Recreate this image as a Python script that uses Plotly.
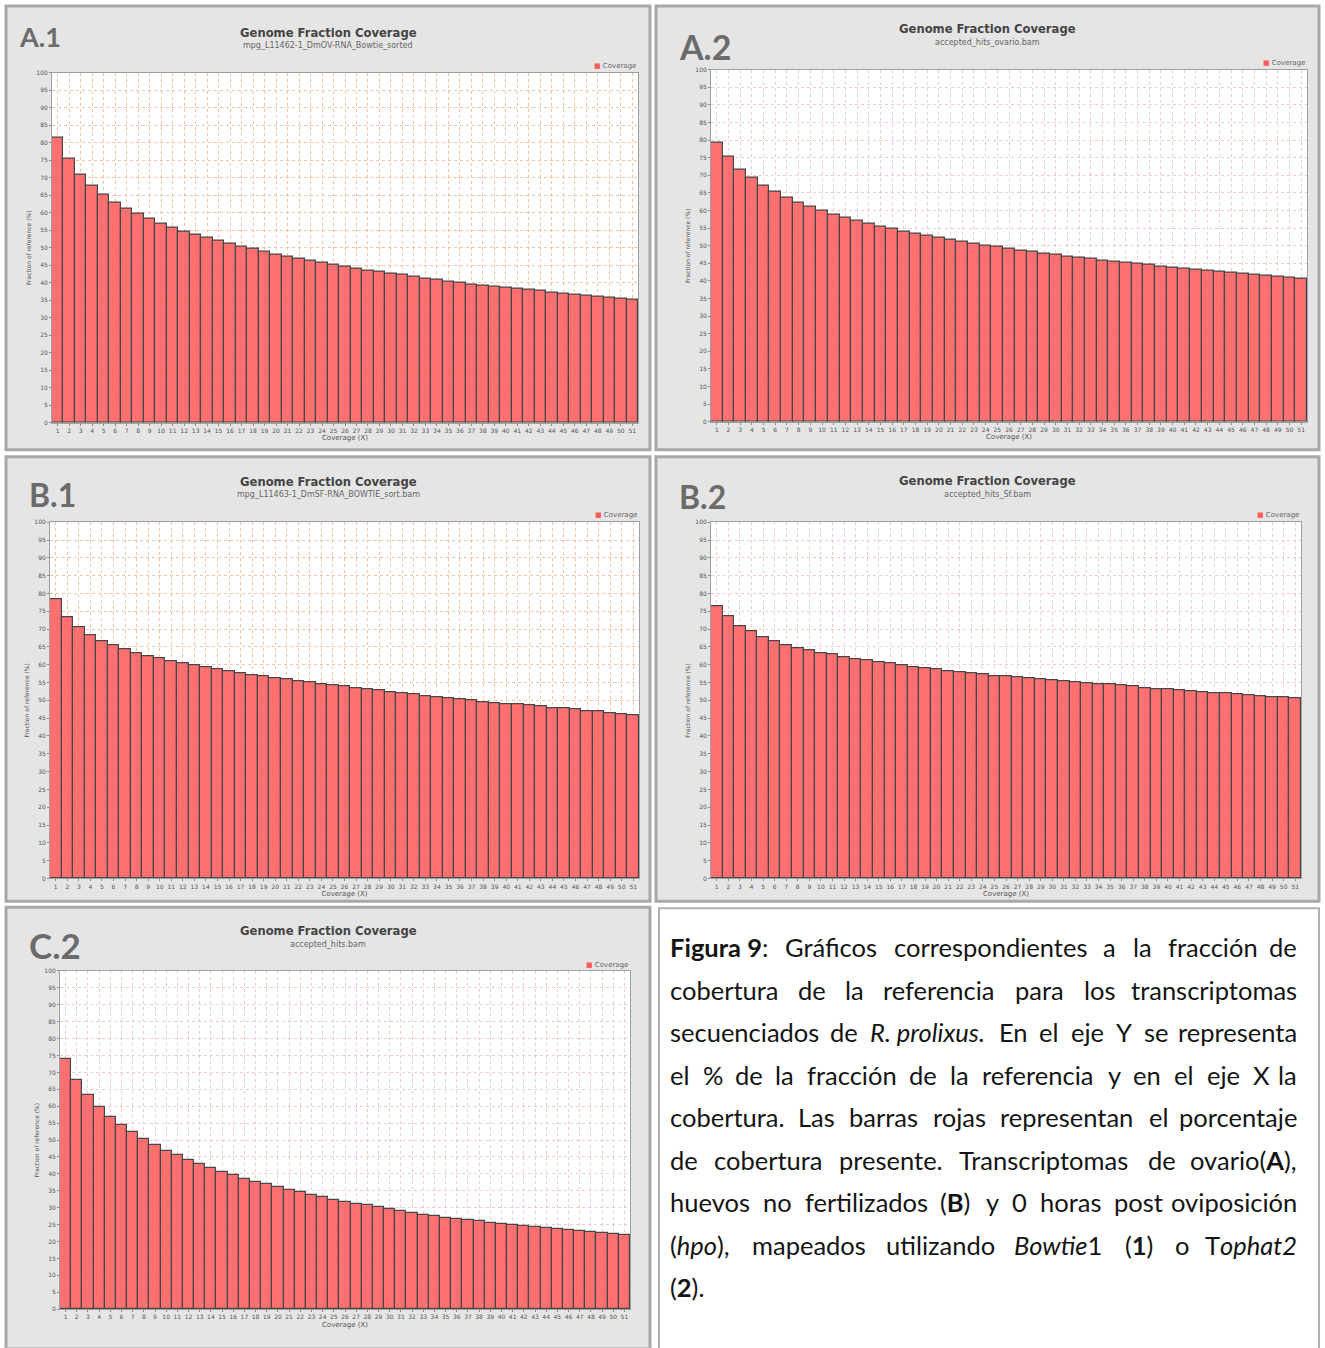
import re
import plotly.graph_objects as go

W, H = 1325, 1348

coverage = [1, 2, 3, 4, 5, 6, 7, 8, 9, 10, 11, 12, 13, 14, 15, 16, 17, 18, 19, 20,
            21, 22, 23, 24, 25, 26, 27, 28, 29, 30, 31, 32, 33, 34, 35, 36, 37, 38, 39, 40,
            41, 42, 43, 44, 45, 46, 47, 48, 49, 50, 51]

a1_values = [81.5, 75.3, 70.8, 67.6, 65.1, 63.0, 61.1, 59.6, 58.3, 56.9, 55.7, 54.6, 53.7, 52.8, 52.0,
             51.1, 50.3, 49.6, 48.8, 48.1, 47.5, 46.9, 46.2, 45.7, 45.2, 44.5, 44.1, 43.5, 43.1, 42.6,
             42.2, 41.7, 41.3, 40.8, 40.4, 40.0, 39.6, 39.3, 38.9, 38.6, 38.3, 37.9, 37.7, 37.3, 36.9,
             36.6, 36.3, 35.9, 35.7, 35.4, 35.1]
a2_values = [79.2, 75.2, 71.6, 69.3, 67.0, 65.3, 63.6, 62.3, 61.1, 60.0, 58.9, 57.9, 57.0, 56.2, 55.5,
             54.8, 54.1, 53.5, 52.9, 52.3, 51.8, 51.2, 50.7, 50.1, 49.6, 49.2, 48.7, 48.3, 47.8, 47.4,
             47.0, 46.6, 46.3, 45.9, 45.6, 45.2, 44.8, 44.6, 44.2, 43.9, 43.6, 43.3, 43.0, 42.7, 42.4,
             42.2, 41.9, 41.6, 41.3, 41.0, 40.7]
b1_values = [78.3, 73.4, 70.6, 68.2, 66.7, 65.4, 64.3, 63.3, 62.5, 61.7, 61.0, 60.3, 59.8, 59.2, 58.6,
             58.1, 57.6, 57.1, 56.7, 56.2, 55.8, 55.3, 55.0, 54.5, 54.2, 53.9, 53.5, 53.1, 52.8, 52.3,
             52.0, 51.6, 51.2, 50.9, 50.7, 50.4, 50.0, 49.6, 49.3, 49.0, 48.8, 48.5, 48.2, 47.9, 47.7,
             47.4, 47.0, 46.8, 46.5, 46.1, 45.8]
b2_values = [76.4, 73.5, 70.7, 69.3, 67.7, 66.7, 65.6, 64.7, 64.1, 63.2, 62.8, 62.0, 61.6, 61.2, 60.7,
             60.3, 59.9, 59.4, 59.1, 58.7, 58.3, 57.9, 57.6, 57.2, 56.9, 56.7, 56.4, 56.1, 55.8, 55.6,
             55.4, 55.1, 54.9, 54.6, 54.4, 54.1, 53.9, 53.5, 53.2, 53.0, 52.8, 52.5, 52.3, 52.1, 51.9,
             51.7, 51.5, 51.2, 51.0, 50.8, 50.6]
c2_values = [74.0, 67.9, 63.3, 59.8, 56.9, 54.5, 52.3, 50.4, 48.5, 46.9, 45.5, 44.0, 42.9, 41.7, 40.5,
             39.6, 38.5, 37.7, 36.9, 36.1, 35.3, 34.6, 33.8, 33.1, 32.4, 31.8, 31.2, 30.7, 30.1, 29.5,
             29.0, 28.5, 28.0, 27.6, 27.1, 26.7, 26.3, 26.0, 25.6, 25.2, 24.8, 24.5, 24.2, 23.9, 23.6,
             23.3, 23.0, 22.7, 22.5, 22.1, 21.9]

panel_labels = ["A.1", "A.2", "B.1", "B.2", "C.2"]
subtitles = ["mpg_L11462-1_DmOV-RNA_Bowtie_sorted", "accepted_hits_ovario.bam",
             "mpg_L11463-1_DmSF-RNA_BOWTIE_sort.bam", "accepted_hits_Sf.bam", "accepted_hits.bam"]
chart_title = "Genome Fraction Coverage"
series_name = "Coverage"
x_title = "Coverage (X)"
y_title = "Fraction of reference (%)"
y_ticks = [0, 5, 10, 15, 20, 25, 30, 35, 40, 45, 50, 55, 60, 65, 70, 75, 80, 85, 90, 95, 100]

caption_lines = [
    "<b>Figura 9</b>: Gráficos correspondientes a la fracción de",
    "cobertura de la referencia para los transcriptomas",
    "secuenciados de <i>R. prolixus.</i> En el eje Y se representa",
    "el % de la fracción de la referencia y en el eje X la",
    "cobertura. Las barras rojas representan el porcentaje",
    "de cobertura presente. Transcriptomas de ovario(<b>A</b>),",
    "huevos no fertilizados (<b>B</b>) y 0 horas post oviposición",
    "(<i>hpo</i>), mapeados utilizando <i>Bowtie</i>1 (<b>1</b>) o T<i>ophat2</i>",
    "(<b>2</b>).",
]

series = [a1_values, a2_values, b1_values, b2_values, c2_values]

# layout geometry in pixels
panel_boxes = [(6, 2, 650, 448), (656, 2, 1319, 448), (6, 455, 650, 902),
               (656, 455, 1319, 902), (6, 908, 650, 1352)]
plot_boxes = [(52, 69, 638, 421), (711, 66, 1307, 420), (50, 521, 639, 879),
              (711, 521, 1301, 879), (60, 972, 630, 1312)]
label_pos = [(17, 33, 27), (677, 43, 34), (27, 493, 32), (677, 495, 32), (27, 946, 35)]
title_y = [(29, 42), (25, 39), (480, 493), (479, 493), (932, 945)]
legend_y = [62, 59, 514, 514, 966]
grid_colors = ["rgba(240,175,130,0.75)", "rgba(225,185,175,0.7)", "rgba(240,175,130,0.75)",
               "rgba(225,185,175,0.7)", "rgba(225,185,175,0.7)"]


def px(x):
    return x / W


def py(y):
    return 1 - y / H


fig = go.Figure()
shapes = []
annotations = []

bar_color = "rgba(255,98,98,0.9)"
tick_font = dict(family="DejaVu Sans", size=6, color="#555555")

for i, vals in enumerate(series):
    n = i + 1
    xa = "x" if n == 1 else f"x{n}"
    ya = "y" if n == 1 else f"y{n}"
    fig.add_trace(go.Bar(
        x=coverage, y=vals, name=series_name, xaxis=xa, yaxis=ya,
        marker=dict(color=bar_color, line=dict(color="#474747", width=1.2)),
        showlegend=False, width=1.0,
    ))
    x0, y0, x1, y1 = plot_boxes[i]
    gc = grid_colors[i]
    axkey = "xaxis" if n == 1 else f"xaxis{n}"
    aykey = "yaxis" if n == 1 else f"yaxis{n}"
    fig.update_layout(**{
        axkey: dict(domain=[px(x0), px(x1)], anchor=ya, range=[0.5, 51.5],
                    tickmode="array", tickvals=coverage, ticktext=[str(c) for c in coverage],
                    tickfont=tick_font, tickangle=0, ticks="outside", ticklen=2, tickcolor="#888",
                    showgrid=True, gridcolor=gc, griddash="dot", gridwidth=1,
                    showline=True, linecolor="#a0a0a0", linewidth=1, mirror=True, zeroline=False,
                    title=dict(text=x_title, font=dict(family="DejaVu Sans", size=7, color="#555"),
                               standoff=2),
                    fixedrange=True),
        aykey: dict(domain=[py(y1), py(y0)], anchor=xa, range=[0, 100],
                    tickmode="array", tickvals=y_ticks, tickfont=tick_font,
                    ticks="outside", ticklen=2, tickcolor="#888",
                    showgrid=True, gridcolor=gc, griddash="dot", gridwidth=1,
                    showline=True, linecolor="#a0a0a0", linewidth=1, mirror=True, zeroline=False,
                    title=dict(text=y_title, font=dict(family="DejaVu Sans", size=6, color="#555"),
                               standoff=4),
                    fixedrange=True),
    })
    bx0, by0, bx1, by1 = panel_boxes[i]
    shapes.append(dict(type="rect", xref="paper", yref="paper", layer="below",
                       x0=px(bx0), x1=px(bx1), y0=py(by1), y1=py(by0),
                       fillcolor="#e5e5e5", line=dict(color="#a8a8a8", width=3)))
    shapes.append(dict(type="rect", xref=f"{xa} domain", yref=f"{ya} domain", layer="below",
                       x0=0, x1=1, y0=0, y1=1, fillcolor="white", line=dict(width=0)))
    lx, ly, ls = label_pos[i]
    annotations.append(dict(text=f"<b>{panel_labels[i]}</b>", x=px(lx), y=py(ly), xref="paper",
                            yref="paper", xanchor="left", yanchor="middle", showarrow=False,
                            font=dict(family="Lato", size=ls, color="#6b6b6b")))
    cx = (bx0 + bx1) / 2
    annotations.append(dict(text=f"<b>{chart_title}</b>", x=px(cx), y=py(title_y[i][0]), xref="paper",
                            yref="paper", xanchor="center", yanchor="middle", showarrow=False,
                            font=dict(family="DejaVu Sans", size=11.6, color="#444444")))
    annotations.append(dict(text=subtitles[i], x=px(cx), y=py(title_y[i][1]), xref="paper",
                            yref="paper", xanchor="center", yanchor="middle", showarrow=False,
                            font=dict(family="DejaVu Sans", size=8, color="#666666")))
    annotations.append(dict(text=f'<span style="color:#ff5c5c">■</span> {series_name}',
                            x=px(x1), y=py(legend_y[i]), xref="paper", yref="paper",
                            xanchor="right", yanchor="middle", showarrow=False,
                            font=dict(family="DejaVu Sans", size=7, color="#666666")))

# caption box
shapes.append(dict(type="rect", xref="paper", yref="paper", layer="below",
                   x0=px(659), x1=px(1319), y0=py(1352), y1=py(909),
                   fillcolor="white", line=dict(color="#b0b0b0", width=2)))

# approximate Lato advance widths (em units) for justified layout
CW = {
    'a': .51, 'b': .56, 'c': .46, 'd': .56, 'e': .53, 'f': .33, 'g': .50, 'h': .56, 'i': .24,
    'j': .24, 'k': .51, 'l': .24, 'm': .85, 'n': .56, 'o': .56, 'p': .56, 'q': .56, 'r': .37,
    's': .42, 't': .35, 'u': .56, 'v': .51, 'w': .78, 'x': .50, 'y': .51, 'z': .45,
    'á': .51, 'ó': .56, 'í': .24, 'A': .68, 'B': .63, 'C': .66, 'D': .73, 'E': .56, 'F': .54,
    'G': .72, 'H': .75, 'I': .28, 'J': .39, 'K': .65, 'L': .51, 'M': .89, 'N': .75, 'O': .78,
    'P': .60, 'Q': .78, 'R': .62, 'S': .52, 'T': .59, 'U': .72, 'V': .67, 'W': 1.0, 'X': .64,
    'Y': .62, 'Z': .60, ':': .25, '.': .23, ',': .23, '(': .30, ')': .30, '%': .75, ' ': .193,
}
FS = 25.5
left_x, right_x = 668, 1299
space_w = 0.193 * FS


def word_width(w):
    total = 0.0
    bold = False
    italic = False
    for tok in re.split(r"(<[^>]+>)", w):
        if tok.startswith("<"):
            if tok == "<b>":
                bold = True
            elif tok == "</b>":
                bold = False
            elif tok == "<i>":
                italic = True
            elif tok == "</i>":
                italic = False
            continue
        for ch in tok:
            cw = CW.get(ch, 0.58 if ch.isdigit() else 0.5)
            if bold:
                cw *= 1.04
            if italic:
                cw *= 0.97
            total += cw
    return total * FS


line_y0, line_step = 948, 42.75
for k, line in enumerate(caption_lines):
    yk = py(line_y0 + k * line_step)
    words = line.split(" ")
    fixed = []
    buf = ""
    for w in words:
        buf = w if not buf else buf + " " + w
        if buf.count("<i>") == buf.count("</i>") and buf.count("<b>") == buf.count("</b>"):
            fixed.append(buf)
            buf = ""
    if buf:
        fixed.append(buf)
    words = fixed
    font = dict(family="Lato", size=FS, color="#141414")
    if k == len(caption_lines) - 1 or len(words) == 1:
        annotations.append(dict(text=line, x=px(left_x), y=yk, xref="paper", yref="paper",
                                xanchor="left", yanchor="middle", showarrow=False, font=font))
        continue
    widths = [word_width(w) for w in words]
    gap = (right_x - left_x - sum(widths)) / (len(words) - 1)
    gap = max(gap, space_w * 0.8)
    xpos = left_x
    for j, w in enumerate(words):
        if j == len(words) - 1:
            annotations.append(dict(text=w, x=px(right_x), y=yk, xref="paper", yref="paper",
                                    xanchor="right", yanchor="middle", showarrow=False, font=font))
        else:
            annotations.append(dict(text=w, x=px(xpos), y=yk, xref="paper", yref="paper",
                                    xanchor="left", yanchor="middle", showarrow=False, font=font))
        xpos += widths[j] + gap

fig.update_layout(
    width=W, height=H, margin=dict(l=0, r=0, t=0, b=0),
    paper_bgcolor="white", plot_bgcolor="white",
    shapes=shapes, annotations=annotations, bargap=0,
)

fig.write_html("out.html")
